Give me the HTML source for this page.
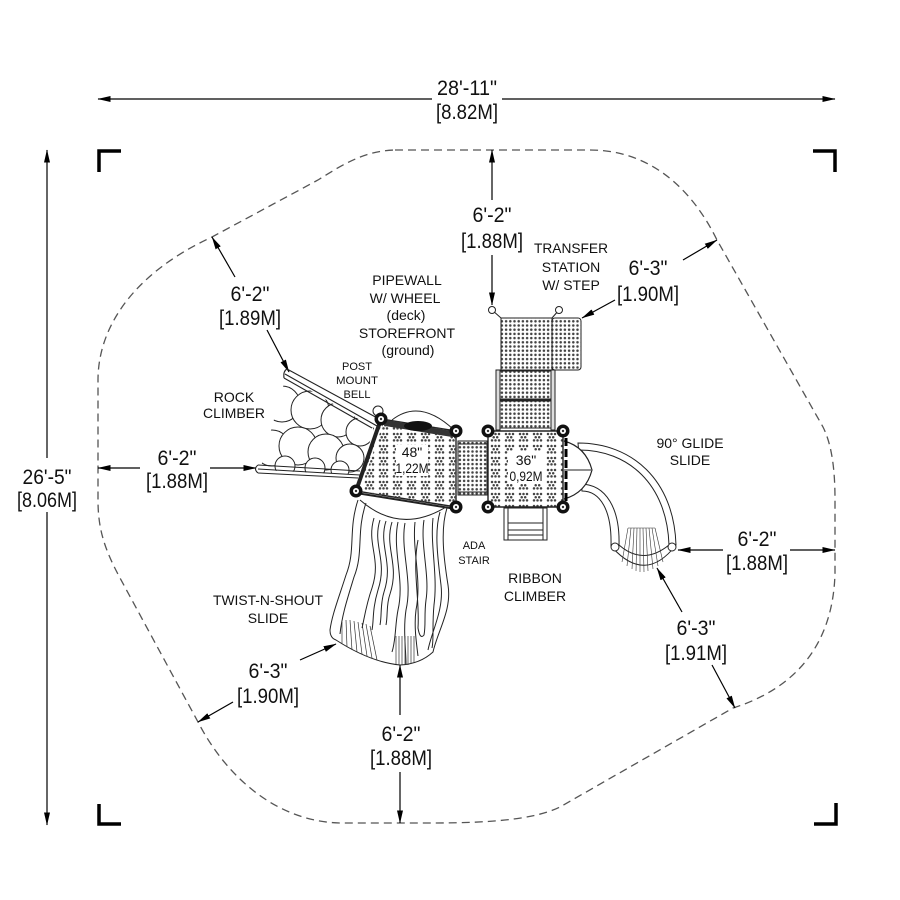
<!DOCTYPE html>
<html><head><meta charset="utf-8"><style>
html,body{margin:0;padding:0;background:#fff;}
svg{display:block;}
text{font-family:"Liberation Sans",Arial,sans-serif;fill:#111;}
.d{font-size:21px;}
.l{font-size:14px;}
.s{font-size:11px;}
</style></head><body>
<svg width="900" height="900" viewBox="0 0 900 900" xmlns="http://www.w3.org/2000/svg">
<defs>
<marker id="ah" markerUnits="userSpaceOnUse" markerWidth="13" markerHeight="7" refX="12.5" refY="3.5" orient="auto">
<path d="M0,0.5 L13,3.5 L0,6.5 Z" fill="#000"/>
</marker>
<pattern id="dots" width="4.2" height="4.2" patternUnits="userSpaceOnUse">
<circle cx="2.1" cy="2.1" r="1.25" fill="#444"/>
</pattern>
<pattern id="cl" width="14" height="12" patternUnits="userSpaceOnUse">
<circle cx="2" cy="2" r="1.25" fill="#444"/><circle cx="5.5" cy="2" r="1.25" fill="#444"/><circle cx="9" cy="2" r="1.25" fill="#444"/>
<circle cx="3.7" cy="5.2" r="1.25" fill="#444"/><circle cx="7.2" cy="5.2" r="1.25" fill="#444"/>
<circle cx="2" cy="8.4" r="1.25" fill="#444"/><circle cx="5.5" cy="8.4" r="1.25" fill="#444"/><circle cx="9" cy="8.4" r="1.25" fill="#444"/>
</pattern>
<clipPath id="rockclip"><polygon points="260,470 286,376 374,428 360,475"/></clipPath>
</defs>

<!-- boundary -->
<path d="M395,150 L590,150 C655,150 695,195 717,240 L823,427 C832,445 835,470 835,500 L835,573 C833,650 790,690 733,708 L560,807 C530,822 470,823 430,823 L343,823 C280,823 228,780 198,722 L120,578 C105,550 98,530 98,500 L98,380 C98,330 130,275 212,237 L318,180 C345,163 365,151 395,150 Z" fill="none" stroke="#555" stroke-width="1.3" stroke-dasharray="8,5"/>

<!-- corner brackets -->
<g fill="none" stroke="#000" stroke-width="3.5">
<path d="M99,172 V151 H121"/><path d="M813,151 H835 V172"/>
<path d="M99,804 V824 H121"/><path d="M814,824 H836 V803"/>
</g>

<!-- dimension lines -->
<g stroke="#000" stroke-width="1.2" fill="none" marker-end="url(#ah)">
<line x1="432" y1="99" x2="98" y2="99"/><line x1="502" y1="99" x2="835" y2="99"/>
<line x1="47" y1="458" x2="47" y2="150"/><line x1="47" y1="512" x2="47" y2="825"/>
<line x1="492" y1="200" x2="492" y2="150"/><line x1="492" y1="255" x2="492" y2="305"/>
<line x1="683" y1="260" x2="717" y2="240"/><line x1="615" y1="300" x2="582" y2="318"/>
<line x1="235" y1="277" x2="212" y2="237"/><line x1="267" y1="330" x2="289" y2="372"/>
<line x1="140" y1="468" x2="98" y2="468"/><line x1="210" y1="468" x2="256" y2="468"/>
<line x1="723" y1="550" x2="678" y2="550"/><line x1="790" y1="550" x2="835" y2="550"/>
<line x1="682" y1="612" x2="657" y2="568"/><line x1="712" y1="665" x2="735" y2="708"/>
<line x1="300" y1="660" x2="336" y2="644"/><line x1="233" y1="702" x2="198" y2="722"/>
<line x1="400" y1="715" x2="400" y2="665"/><line x1="400" y1="772" x2="400" y2="823"/>
</g>

<!-- dimension texts -->
<g class="d" text-anchor="middle">
<text x="467" y="95" textLength="60" lengthAdjust="spacingAndGlyphs">28'-11"</text>
<text x="467" y="119" textLength="62" lengthAdjust="spacingAndGlyphs">[8.82M]</text>
<text x="47" y="484" textLength="49" lengthAdjust="spacingAndGlyphs">26'-5"</text>
<text x="47" y="507" textLength="60" lengthAdjust="spacingAndGlyphs">[8.06M]</text>
<text x="492" y="222" textLength="39" lengthAdjust="spacingAndGlyphs">6'-2"</text>
<text x="492" y="248" textLength="62" lengthAdjust="spacingAndGlyphs">[1.88M]</text>
<text x="648" y="275" textLength="39" lengthAdjust="spacingAndGlyphs">6'-3"</text>
<text x="648" y="301" textLength="62" lengthAdjust="spacingAndGlyphs">[1.90M]</text>
<text x="250" y="301" textLength="39" lengthAdjust="spacingAndGlyphs">6'-2"</text>
<text x="250" y="325" textLength="62" lengthAdjust="spacingAndGlyphs">[1.89M]</text>
<text x="177" y="465" textLength="39" lengthAdjust="spacingAndGlyphs">6'-2"</text>
<text x="177" y="488" textLength="62" lengthAdjust="spacingAndGlyphs">[1.88M]</text>
<text x="757" y="546" textLength="39" lengthAdjust="spacingAndGlyphs">6'-2"</text>
<text x="757" y="570" textLength="62" lengthAdjust="spacingAndGlyphs">[1.88M]</text>
<text x="696" y="635" textLength="39" lengthAdjust="spacingAndGlyphs">6'-3"</text>
<text x="696" y="660" textLength="62" lengthAdjust="spacingAndGlyphs">[1.91M]</text>
<text x="268" y="678" textLength="39" lengthAdjust="spacingAndGlyphs">6'-3"</text>
<text x="268" y="703" textLength="62" lengthAdjust="spacingAndGlyphs">[1.90M]</text>
<text x="401" y="741" textLength="39" lengthAdjust="spacingAndGlyphs">6'-2"</text>
<text x="401" y="765" textLength="62" lengthAdjust="spacingAndGlyphs">[1.88M]</text>
</g>

<!-- labels -->
<g class="l" text-anchor="middle">
<text x="571" y="253" textLength="74" lengthAdjust="spacingAndGlyphs">TRANSFER</text>
<text x="571" y="272">STATION</text>
<text x="571" y="290">W/ STEP</text>
<text x="407" y="285">PIPEWALL</text>
<text x="405" y="303">W/ WHEEL</text>
<text x="406" y="320">(deck)</text>
<text x="407" y="338">STOREFRONT</text>
<text x="408" y="355">(ground)</text>
<text x="234" y="402">ROCK</text>
<text x="234" y="418" textLength="62" lengthAdjust="spacingAndGlyphs">CLIMBER</text>
<text x="690" y="448">90° GLIDE</text>
<text x="690" y="465">SLIDE</text>
<text x="535" y="583">RIBBON</text>
<text x="535" y="601">CLIMBER</text>
<text x="268" y="605" textLength="110" lengthAdjust="spacingAndGlyphs">TWIST-N-SHOUT</text>
<text x="268" y="623">SLIDE</text>
</g>
<g class="s" text-anchor="middle">
<text x="357" y="370">POST</text>
<text x="357" y="384" textLength="42" lengthAdjust="spacingAndGlyphs">MOUNT</text>
<text x="357" y="398">BELL</text>
<text x="474" y="549">ADA</text>
<text x="474" y="564">STAIR</text>
</g>

<!-- ROCK CLIMBER -->
<g clip-path="url(#rockclip)" fill="#fff" stroke="#222" stroke-width="1">
<circle cx="282" cy="404" r="18"/><circle cx="310" cy="410" r="19"/><circle cx="338" cy="420" r="17"/><circle cx="360" cy="432" r="14"/>
<circle cx="272" cy="448" r="18"/><circle cx="298" cy="446" r="19"/><circle cx="326" cy="452" r="18"/><circle cx="350" cy="458" r="14"/>
<circle cx="285" cy="466" r="10"/><circle cx="315" cy="468" r="10"/><circle cx="340" cy="470" r="9"/>
</g>
<g fill="none" stroke="#222" stroke-width="1.1">
<path d="M287,369 L381,420"/><path d="M285,374 L377,426"/><path d="M284,378 L372,428"/>
<path d="M287,369 Q283,371 284,378"/>
<path d="M258,465 L360,471"/><path d="M258,469 L360,475"/><path d="M258,473 L358,478"/>
<path d="M258,465 Q253,469 258,473"/>
</g>

<!-- TWIST-N-SHOUT SLIDE -->
<g fill="none" stroke="#222" stroke-width="1">
<path d="M358,500 C348,530 356,550 346,575 C338,600 332,615 330,630 Q330,638 336,640 Q370,662 400,665 Q420,664 433,652 C438,630 452,610 448,585 C444,560 440,530 447,508" fill="#fff"/>
<path d="M366,503 C356,532 364,552 354,577 C347,600 342,615 340,634"/>
<path d="M440,512 C434,532 438,560 441,585 C444,610 432,630 428,650"/>
<path d="M360,500 Q400,535 446,507"/>
<path d="M405,523 C400,550 413,580 406,610 C403,630 406,650 406,664"/>
<path d="M398,522 C392,550 405,580 398,610 C395,625 396,640 392,652"/>
<path d="M415,522 C412,550 422,580 416,610 C414,625 416,640 418,656"/>
<path d="M380,520 C372,545 388,560 378,590 C372,610 374,620 372,630"/>
<path d="M386,521 C378,546 394,562 384,592 C380,605 382,615 380,625"/>
<path d="M392,522 C384,548 400,564 390,594 C386,605 388,615 386,625"/>
<path d="M374,518 C366,545 382,558 372,588 C366,605 364,620 362,628"/>
<path d="M424,520 C420,545 430,575 426,600 C424,615 426,625 424,635 Q420,640 418,628 C420,600 412,570 418,540"/>
<path d="M433,518 C430,545 438,575 434,605 C432,625 434,640 432,648"/>
</g>
<g stroke="#333" stroke-width="0.7">
<line x1="342" y1="622" x2="342" y2="644"/><line x1="346" y1="620" x2="347" y2="647"/><line x1="350" y1="620" x2="352" y2="650"/><line x1="354" y1="621" x2="357" y2="652"/><line x1="358" y1="622" x2="362" y2="654"/><line x1="362" y1="623" x2="367" y2="656"/><line x1="366" y1="624" x2="372" y2="658"/><line x1="370" y1="626" x2="377" y2="660"/>
<line x1="396" y1="636" x2="396" y2="664"/><line x1="399" y1="636" x2="399" y2="665"/><line x1="402" y1="636" x2="402" y2="665"/><line x1="405" y1="636" x2="405" y2="665"/><line x1="408" y1="636" x2="408" y2="665"/><line x1="411" y1="636" x2="411" y2="664"/><line x1="414" y1="636" x2="414" y2="663"/>
</g>

<!-- 90 GLIDE SLIDE -->
<g fill="none" stroke="#222" stroke-width="1">
<path d="M578,443 C632,443 674,480 676,545 Q645,585 611,546 C612,510 600,491 582,491 Z" fill="#fff"/>
<path d="M579,450 C628,450 667,484 669,545"/>
<path d="M580,484 C607,484 620,510 619,545"/>
<path d="M619,545 Q643,566 669,545"/>
<circle cx="615" cy="547" r="4" fill="#fff"/><circle cx="672" cy="547" r="4" fill="#fff"/>
</g>
<g stroke="#333" stroke-width="0.6">
<line x1="628" y1="528" x2="622" y2="562"/><line x1="631" y1="528" x2="627" y2="566"/><line x1="634" y1="528" x2="632" y2="569"/><line x1="637" y1="528" x2="636" y2="571"/><line x1="640" y1="528" x2="640" y2="572"/><line x1="643" y1="528" x2="644" y2="572"/><line x1="646" y1="528" x2="648" y2="571"/><line x1="649" y1="528" x2="653" y2="569"/><line x1="652" y1="528" x2="658" y2="566"/><line x1="655" y1="528" x2="663" y2="562"/>
<line x1="628" y1="528" x2="655" y2="528"/>
</g>
<!-- dome -->
<path d="M564,441 Q586,447 592,470 Q586,493 564,499" fill="#fff" stroke="#222" stroke-width="1.2"/>
<line x1="564" y1="470" x2="591" y2="470" stroke="#222" stroke-width="1"/>
<line x1="566" y1="438" x2="566" y2="502" stroke="#000" stroke-width="3" stroke-dasharray="8,3"/>

<!-- TRANSFER STATION -->
<g stroke="#222" stroke-width="1">
<line x1="492" y1="310" x2="501" y2="318"/><line x1="559" y1="310" x2="552" y2="318"/>
<circle cx="492" cy="310" r="3.5" fill="#fff"/><circle cx="559" cy="310" r="3.5" fill="#fff"/>
<rect x="501" y="318" width="51" height="52" fill="url(#dots)"/>
<rect x="552" y="318" width="29" height="52" rx="3" fill="url(#dots)"/>
<rect x="496" y="370" width="4" height="60" fill="#ddd"/>
<rect x="551" y="370" width="4" height="60" fill="#ddd"/>
<rect x="500" y="371" width="51" height="28" fill="url(#dots)"/>
<rect x="500" y="401" width="51" height="27" fill="url(#dots)"/>
<line x1="500" y1="400" x2="551" y2="400" stroke-width="2"/>
</g>

<!-- RIBBON CLIMBER -->
<g stroke="#222" stroke-width="1" fill="none">
<rect x="504" y="508" width="43" height="32"/>
<line x1="508" y1="508" x2="508" y2="540"/><line x1="543" y1="508" x2="543" y2="540"/>
<line x1="508" y1="523" x2="543" y2="523"/><line x1="508" y1="530" x2="543" y2="530"/><line x1="508" y1="535" x2="543" y2="535"/>
</g>

<!-- BRIDGE -->
<rect x="458" y="441" width="29" height="54" fill="url(#dots)" stroke="#222" stroke-width="1"/>
<line x1="458" y1="444" x2="487" y2="444" stroke="#222"/><line x1="458" y1="492" x2="487" y2="492" stroke="#222"/>

<!-- 48 DECK -->
<path d="M392,420 Q420,398 454,430" fill="#fff" stroke="#222" stroke-width="1"/>
<polygon points="381,419 456,431 456,507 356,491" fill="#fff" stroke="#222" stroke-width="1.4"/>
<polygon points="381,419 456,431 456,507 356,491" fill="url(#cl)"/>
<polygon points="386,420 452,431 452,437 385,426" fill="#333"/>
<ellipse cx="418" cy="426" rx="14" ry="5" fill="#111"/>
<line x1="381" y1="419" x2="356" y2="491" stroke="#222" stroke-width="4"/>
<line x1="383" y1="422" x2="359" y2="492" stroke="#fff" stroke-width="1.2"/>
<line x1="356" y1="493" x2="456" y2="509" stroke="#222" stroke-width="2"/>
<circle cx="378" cy="411" r="5" fill="#fff" stroke="#222" stroke-width="1"/>
<rect x="396" y="445" width="32" height="31" fill="#fff"/>
<text class="l" x="412" y="457" text-anchor="middle">48"</text>
<text class="l" x="412" y="473" text-anchor="middle" textLength="33" lengthAdjust="spacingAndGlyphs">1,22M</text>

<!-- 36 DECK -->
<rect x="488" y="431" width="75" height="76" rx="4" fill="url(#cl)" stroke="#222" stroke-width="1.4"/>
<rect x="508" y="451" width="36" height="33" fill="#fff"/>
<text class="l" x="526" y="465" text-anchor="middle">36"</text>
<text class="l" x="526" y="481" text-anchor="middle" textLength="33" lengthAdjust="spacingAndGlyphs">0,92M</text>

<!-- posts -->
<g>
<g fill="#111"><circle cx="381" cy="419" r="6.5"/><circle cx="456" cy="431" r="6.5"/><circle cx="356" cy="491" r="6.5"/><circle cx="456" cy="507" r="6.5"/><circle cx="488" cy="431" r="6.5"/><circle cx="563" cy="431" r="6.5"/><circle cx="488" cy="507" r="6.5"/><circle cx="563" cy="507" r="6.5"/></g>
<g fill="#fff"><circle cx="381" cy="419" r="3"/><circle cx="456" cy="431" r="3"/><circle cx="356" cy="491" r="3"/><circle cx="456" cy="507" r="3"/><circle cx="488" cy="431" r="3"/><circle cx="563" cy="431" r="3"/><circle cx="488" cy="507" r="3"/><circle cx="563" cy="507" r="3"/></g>
<g fill="#333"><circle cx="381" cy="419" r="1.2"/><circle cx="456" cy="431" r="1.2"/><circle cx="356" cy="491" r="1.2"/><circle cx="456" cy="507" r="1.2"/><circle cx="488" cy="431" r="1.2"/><circle cx="563" cy="431" r="1.2"/><circle cx="488" cy="507" r="1.2"/><circle cx="563" cy="507" r="1.2"/></g>
</g>
</svg>
</body></html>
